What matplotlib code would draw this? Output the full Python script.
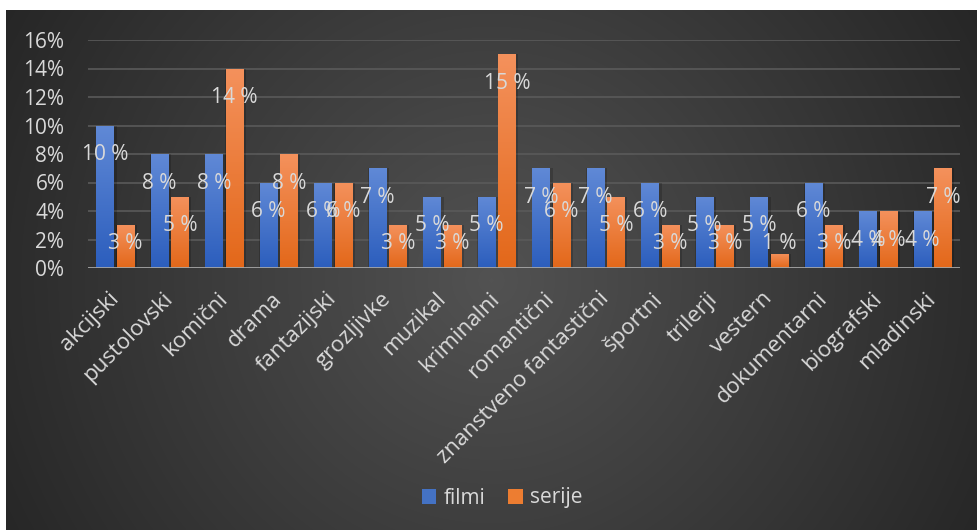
import matplotlib
matplotlib.use('Agg')
import matplotlib.pyplot as plt
import numpy as np
from matplotlib.colors import LinearSegmentedColormap
from matplotlib.patches import Patch

plt.rcParams['font.family'] = ['Open Sans', 'DejaVu Sans']

# data (percent)
categories = ['akcijski', 'pustolovski', 'komični', 'drama', 'fantazijski',
              'grozljivke', 'muzikal', 'kriminalni', 'romantični',
              'znanstveno fantastični', 'športni', 'trilerji', 'vestern',
              'dokumentarni', 'biografski', 'mladinski']
filmi = [10, 8, 8, 6, 6, 7, 5, 5, 7, 7, 6, 5, 5, 6, 4, 4]
serije = [3, 5, 14, 8, 6, 3, 3, 15, 6, 5, 3, 3, 1, 3, 4, 7]
series_names = ['filmi', 'serije']

W, H = 977, 530
fig = plt.figure(figsize=(W / 100, H / 100), dpi=100)
fig.patch.set_facecolor('white')

# radial gradient background
bg = fig.add_axes([6 / W, 0, 971 / W, 520 / H])
bg.set_axis_off()
yy, xx = np.mgrid[0:520, 0:971]
r = np.sqrt((xx - 485) ** 2 + (yy - 270) ** 2) / 560
r = np.clip(r, 0, 1)
bg_cmap = LinearSegmentedColormap.from_list('bg', ['#525252', '#262626'])
bg.imshow(r, cmap=bg_cmap, vmin=0, vmax=1, aspect='auto', interpolation='bilinear')

ax = fig.add_axes([88 / W, (H - 268) / H, 872 / W, 228 / H])
ax.set_facecolor('none')

x = np.arange(len(categories))
width = 0.32
blue_cmap = LinearSegmentedColormap.from_list('b', ['#2c5ebd', '#6089d6'])
orange_cmap = LinearSegmentedColormap.from_list('o', ['#e3681a', '#f4915c'])

grad = np.linspace(0, 1, 100).reshape(-1, 1)


def grad_bars(pos, vals, cmap, color):
    # soft shadow
    ax.bar(pos + 0.02, vals, width + 0.06, color='black', alpha=0.18, zorder=2,
           linewidth=0)
    bars = ax.bar(pos, vals, width, color=color, zorder=3, linewidth=0)
    for b in bars:
        bx, by = b.get_x(), b.get_y()
        bw, bh = b.get_width(), b.get_height()
        im = ax.imshow(grad, cmap=cmap, origin='lower', aspect='auto',
                       extent=[bx, bx + bw, by, by + bh], zorder=4)
        im.set_clip_path(b)
    return bars


grad_bars(x - 0.185, np.array(filmi), blue_cmap, '#4472c4')
grad_bars(x + 0.185, np.array(serije), orange_cmap, '#ed7d31')
ax.set_xlim(-0.5, len(categories) - 0.5)
ax.set_ylim(0, 16)

# data labels
for pos, vals in [(x - 0.185, filmi), (x + 0.185, serije)]:
    for px, v in zip(pos, vals):
        ly = max(v - 2.05, 1.75)
        ax.text(px, ly, f'{v} %', ha='center', va='center', color='#d9d9d9',
                fontsize=15, zorder=6)

# grid and axes
ax.set_yticks(np.arange(0, 17, 2))
ax.set_yticklabels([f'{t}%' for t in range(0, 17, 2)])
for t in range(2, 17, 2):
    ax.axhline(t, color='#5a5a5a', lw=1.2, zorder=1)
ax.axhline(0, color='#a6a6a6', lw=2, zorder=5)
for s in ax.spines.values():
    s.set_visible(False)
ax.tick_params(axis='y', length=0, pad=17, labelsize=15, labelcolor='#d9d9d9')
ax.tick_params(axis='x', length=0, pad=20, labelsize=16, labelcolor='#d9d9d9')
ax.set_xticks(x)
ax.set_xticklabels(categories, rotation=45, ha='right', va='center',
                   rotation_mode='anchor')

# legend
handles = [Patch(facecolor='#4472c4', label=series_names[0]),
           Patch(facecolor='#ed7d31', label=series_names[1])]
fig.legend(handles=handles, loc='center', bbox_to_anchor=(502 / W, 32 / H),
           ncol=2, frameon=False, fontsize=15, labelcolor='#d9d9d9',
           handlelength=0.7, handleheight=0.7, handletextpad=0.35,
           columnspacing=1.1)

fig.savefig('out.png', dpi=100)
